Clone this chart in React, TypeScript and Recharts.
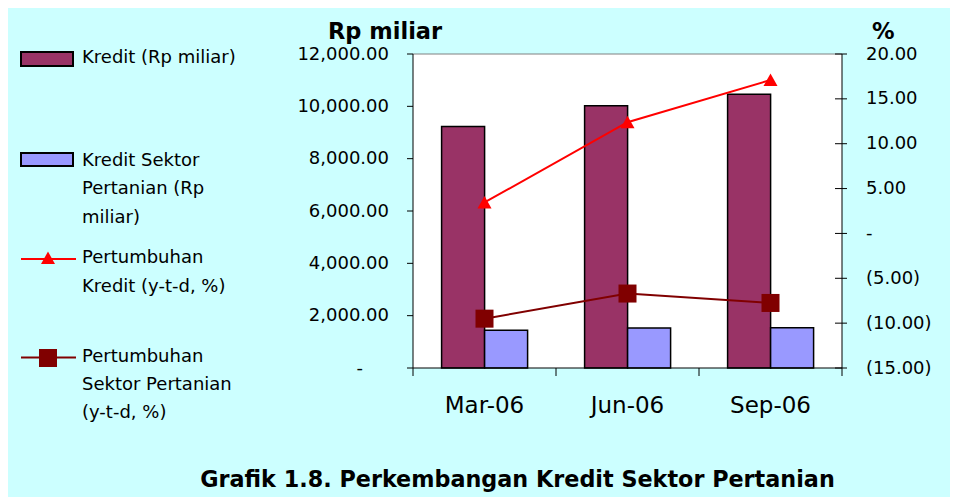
import React from 'react';
import {
    ComposedChart,
    Bar,
    Line,
    XAxis,
    YAxis,
    CartesianGrid,
    ReferenceLine
} from 'recharts';

// values
const categories = ['Mar-06', 'Jun-06', 'Sep-06'];
const kredit = [9230, 10020, 10460];
const kreditPertanian = [1440, 1530, 1535];
const growthKredit = [3.45, 12.4, 17.1];
const growthPertanian = [-9.5, -6.7, -7.75];

const leftTicks = [0, 2000, 4000, 6000, 8000, 10000, 12000];
const rightTicks = [-15, -10, -5, 0, 5, 10, 15, 20];

const chartData = categories.map((month, i) => ({
    month,
    kredit: kredit[i],
    kreditPertanian: kreditPertanian[i],
    growthKredit: growthKredit[i],
    growthPertanian: growthPertanian[i],
}));

const FONT = '"DejaVu Sans", Arial, sans-serif';

const fmtLeft = (v: number) =>
    v === 0 ? '-' : v.toLocaleString('en-US', { minimumFractionDigits: 2, maximumFractionDigits: 2 });

const fmtRight = (v: number) => {
    if (v === 0) return '-';
    if (v < 0) return `(${Math.abs(v).toFixed(2)})`;
    return v.toFixed(2);
};

const LeftTick = (props: any) => {
    const { x, y, payload } = props;
    const isZero = payload.value === 0;
    return (
        <g>
            <line x1={x - 6} y1={y} x2={x} y2={y} stroke="#000" />
            <text
                x={isZero ? x - 50 : x - 24}
                y={y + 5.5}
                textAnchor="end"
                fontFamily={FONT}
                fontSize={18}
                fill="#000"
            >
                {fmtLeft(payload.value)}
            </text>
        </g>
    );
};

const RightTick = (props: any) => {
    const { x, y, payload } = props;
    return (
        <g>
            <line x1={x - 7} y1={y} x2={x + 5} y2={y} stroke="#000" />
            <text x={x + 24} y={y + 5.5} textAnchor="start" fontFamily={FONT} fontSize={18} fill="#000">
                {fmtRight(payload.value)}
            </text>
        </g>
    );
};

const BottomTick = (props: any) => {
    const { x, y, payload, index } = props;
    const half = payload.offset ?? 71.5;
    return (
        <g>
            {index === 0 && <line x1={x - half} y1={y} x2={x - half} y2={y + 8} stroke="#000" />}
            <line x1={x + half} y1={y} x2={x + half} y2={y + 8} stroke="#000" />
            <text x={x} y={y + 45} textAnchor="middle" fontFamily={FONT} fontSize={23} fill="#000">
                {payload.value}
            </text>
        </g>
    );
};

const TriangleDot = (props: any) => {
    const { cx, cy } = props;
    if (cx == null || cy == null) return <g />;
    return <polygon points={`${cx},${cy - 6.5} ${cx + 7},${cy + 6} ${cx - 7},${cy + 6}`} fill="#FF0000" />;
};

const SquareDot = (props: any) => {
    const { cx, cy } = props;
    if (cx == null || cy == null) return <g />;
    return <rect x={cx - 9} y={cy - 9} width={18} height={18} fill="#800000" />;
};

// legend + titles drawn on top of the chart
const Overlay = () => {
    const txt = { fontFamily: FONT, fontSize: 18, fill: '#000' };
    return (
        <svg
            width={949}
            height={489}
            style={{ position: 'absolute', left: 0, top: 0, pointerEvents: 'none' }}
        >
            <text x={320} y={31} fontFamily={FONT} fontSize={22.5} fontWeight="bold">
                Rp miliar
            </text>
            <text x={864} y={31} fontFamily={FONT} fontSize={22.5} fontWeight="bold">
                %
            </text>
            <text x={509.5} y={479} textAnchor="middle" fontFamily={FONT} fontSize={22.3} fontWeight="bold">
                Grafik 1.8. Perkembangan Kredit Sektor Pertanian
            </text>

            {/* Kredit */}
            <rect x={13} y={44} width={52} height={14} fill="#993366" stroke="#000" strokeWidth={2} />
            <text x={74} y={55.3} {...txt}>Kredit (Rp miliar)</text>

            {/* Kredit Sektor Pertanian */}
            <rect x={13} y={145} width={52} height={13} fill="#9999FF" stroke="#000" strokeWidth={2} />
            <text x={74} y={157.7} {...txt}>Kredit Sektor</text>
            <text x={74} y={186} {...txt}>Pertanian (Rp</text>
            <text x={74} y={214.7} {...txt}>miliar)</text>

            {/* Pertumbuhan Kredit */}
            <line x1={13} y1={251} x2={68} y2={251} stroke="#FF0000" strokeWidth={2} />
            <polygon points="40,243.5 47,256 33,256" fill="#FF0000" />
            <text x={74} y={255.2} {...txt}>Pertumbuhan</text>
            <text x={74} y={283.7} {...txt}>Kredit (y-t-d, %)</text>

            {/* Pertumbuhan Sektor Pertanian */}
            <line x1={13} y1={349.5} x2={68} y2={349.5} stroke="#800000" strokeWidth={2} />
            <rect x={31} y={341} width={18} height={18} fill="#800000" />
            <text x={74} y={353.7} {...txt}>Pertumbuhan</text>
            <text x={74} y={382} {...txt}>Sektor Pertanian</text>
            <text x={74} y={410.3} {...txt}>(y-t-d, %)</text>
        </svg>
    );
};

export default function App() {
    return (
        <div style={{ position: 'relative', width: 949, height: 489, background: '#CCFFFF' }}>
            <ComposedChart
                width={949}
                height={489}
                data={chartData}
                margin={{ top: 46, right: 15, left: 305, bottom: 0 }}
                barCategoryGap="20%"
                barGap={0}
            >
                <CartesianGrid horizontal={false} vertical={false} fill="#FFFFFF" />
                <XAxis
                    dataKey="month"
                    height={129}
                    tickSize={0}
                    tickMargin={0}
                    axisLine={{ stroke: '#000' }}
                    tick={<BottomTick />}
                    interval={0}
                />
                <YAxis
                    yAxisId="left"
                    orientation="left"
                    width={100}
                    domain={[0, 12000]}
                    ticks={leftTicks}
                    interval={0}
                    tickSize={0}
                    tickMargin={0}
                    axisLine={{ stroke: '#000' }}
                    tick={<LeftTick />}
                />
                <YAxis
                    yAxisId="right"
                    orientation="right"
                    width={100}
                    domain={[-15, 20]}
                    ticks={rightTicks}
                    interval={0}
                    tickSize={0}
                    tickMargin={0}
                    axisLine={{ stroke: '#000' }}
                    tick={<RightTick />}
                />
                <ReferenceLine yAxisId="left" y={12000} stroke="#808080" />
                <Bar
                    yAxisId="left"
                    dataKey="kredit"
                    fill="#993366"
                    stroke="#000"
                    strokeWidth={1.5}
                    isAnimationActive={false}
                />
                <Bar
                    yAxisId="left"
                    dataKey="kreditPertanian"
                    fill="#9999FF"
                    stroke="#000"
                    strokeWidth={1.5}
                    isAnimationActive={false}
                />
                <Line
                    yAxisId="right"
                    dataKey="growthKredit"
                    stroke="#FF0000"
                    strokeWidth={2}
                    dot={<TriangleDot />}
                    activeDot={false}
                    isAnimationActive={false}
                />
                <Line
                    yAxisId="right"
                    dataKey="growthPertanian"
                    stroke="#800000"
                    strokeWidth={2}
                    dot={<SquareDot />}
                    activeDot={false}
                    isAnimationActive={false}
                />
            </ComposedChart>
            <Overlay />
        </div>
    );
}
